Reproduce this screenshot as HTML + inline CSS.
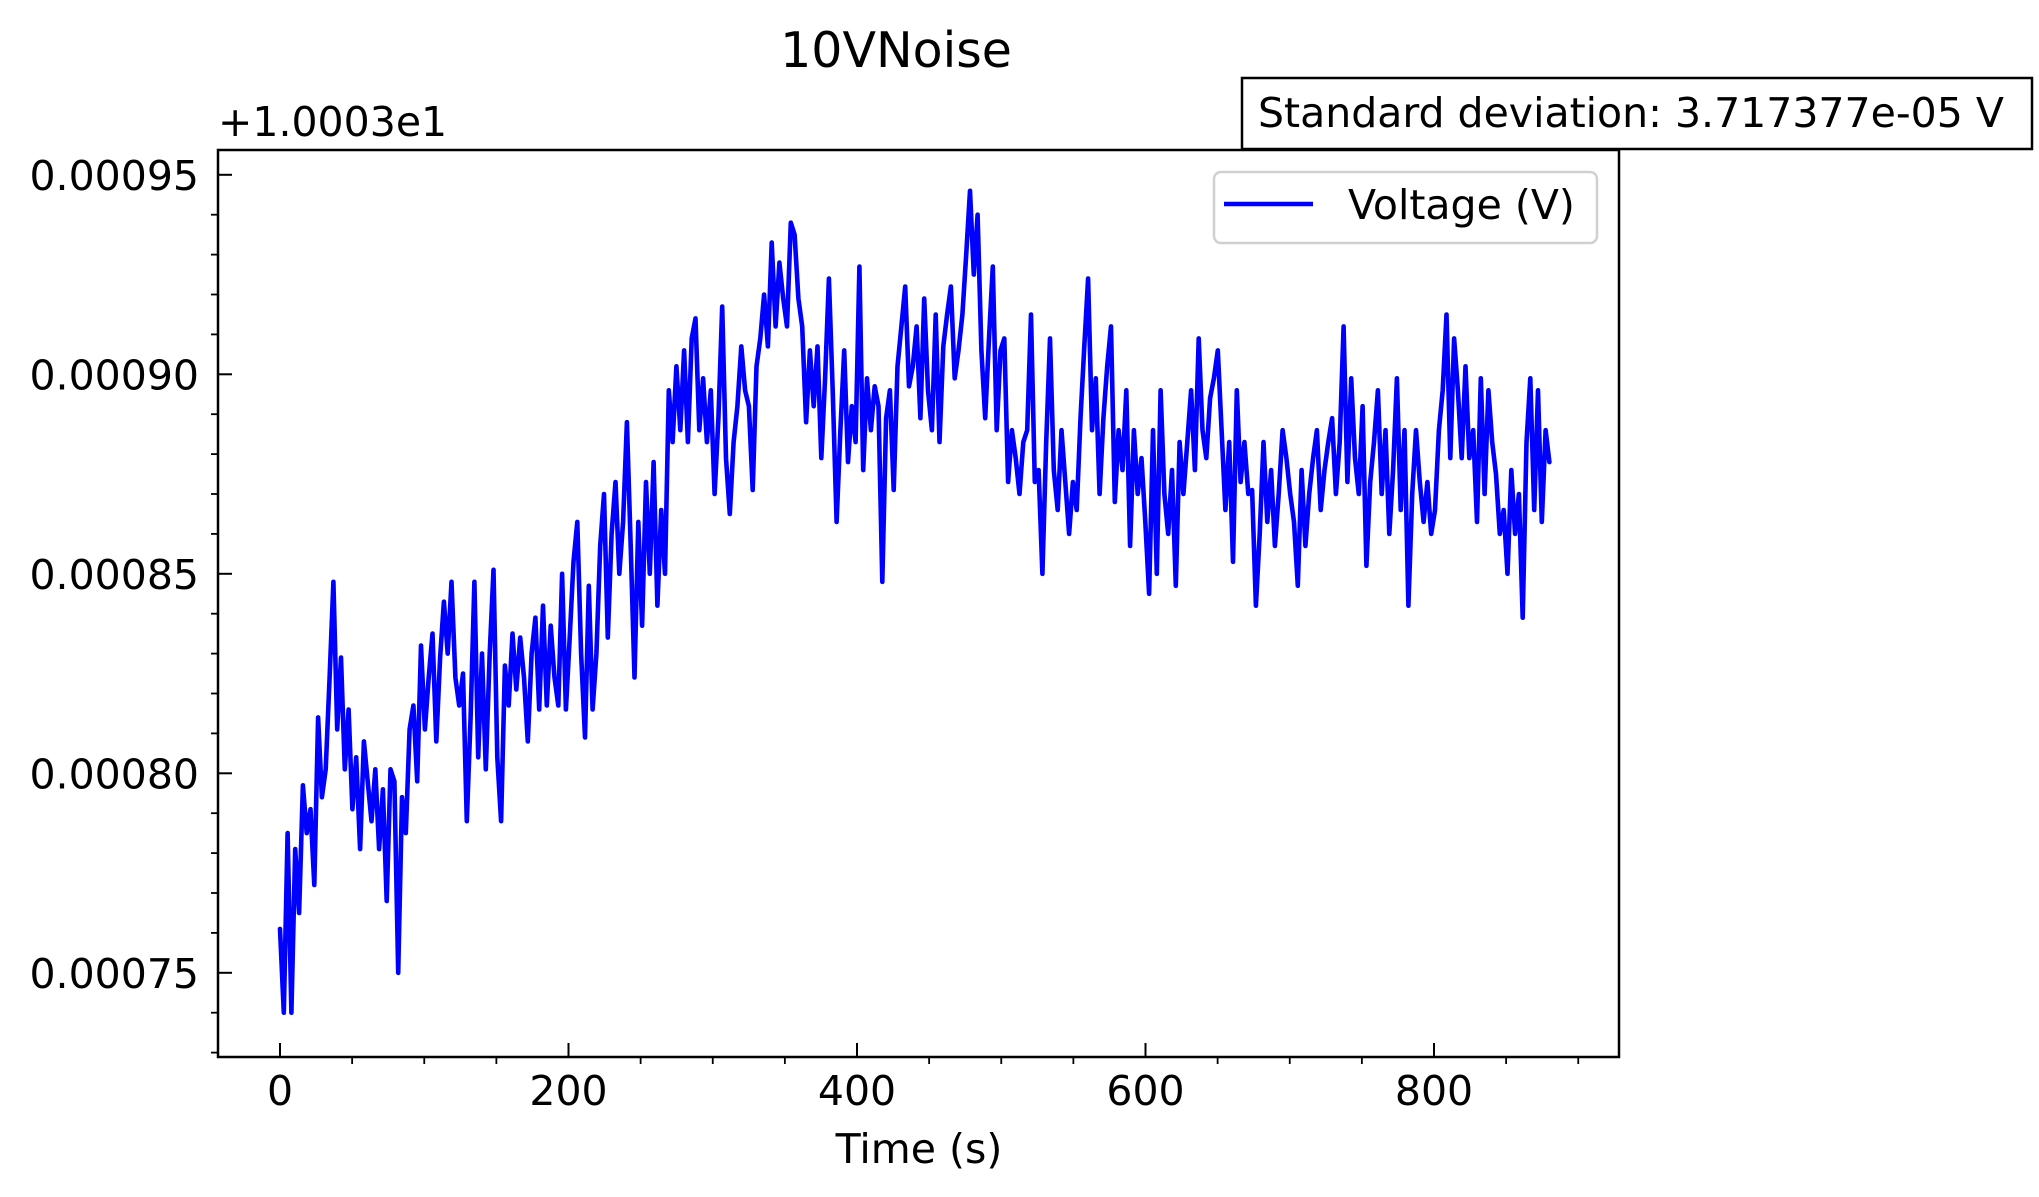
<!DOCTYPE html>
<html><head><meta charset="utf-8"><style>
html,body{margin:0;padding:0;background:#fff;}
svg{display:block;font-family:"DejaVu Sans","Liberation Sans",sans-serif;}
</style></head><body>
<svg id="chart" width="2039" height="1197" viewBox="0 0 2039 1197">
<text x="896" y="67" font-size="49" text-anchor="middle">10VNoise</text>
<text x="218" y="136" font-size="41">+1.0003e1</text>
<g id="plot"></g>
<rect x="218" y="150" width="1401" height="907" fill="none" stroke="#000" stroke-width="2.5"/>
<g id="axes"></g>
<text x="919" y="1163" font-size="41" text-anchor="middle">Time (s)</text>
<g>
<rect x="1214" y="172" width="383" height="71" rx="7" fill="#fff" fill-opacity="0.8" stroke="#d0d0d0" stroke-width="2.5"/>
<line x1="1224" y1="204" x2="1313" y2="204" stroke="#0000ff" stroke-width="4.5"/>
<text x="1348" y="219" font-size="41">Voltage (V)</text>
</g>
<g>
<rect x="1242" y="78" width="790" height="71" fill="#fff" stroke="#000" stroke-width="2.5"/>
<text x="1258" y="127" font-size="41">Standard deviation: 3.717377e-05 V</text>
</g>
</svg>
<script>
// values in units of 1e-5 V above 10.003 V
const voltage = [76.1,74.0,78.5,74.0,78.1,76.5,79.7,78.5,79.1,77.2,81.4,79.4,80.1,82.4,84.8,81.1,82.9,80.1,81.6,79.1,80.4,78.1,80.8,79.8,78.8,80.1,78.1,79.6,76.8,80.1,79.8,75.0,79.4,78.5,81.1,81.7,79.8,83.2,81.1,82.4,83.5,80.8,82.9,84.3,83.0,84.8,82.4,81.7,82.5,78.8,81.4,84.8,80.4,83.0,80.1,83.0,85.1,80.4,78.8,82.7,81.7,83.5,82.1,83.4,82.4,80.8,83.0,83.9,81.6,84.2,81.7,83.7,82.4,81.7,85.0,81.6,83.4,85.3,86.3,83.0,80.9,84.7,81.6,83.0,85.7,87.0,83.4,86.0,87.3,85.0,86.3,88.8,85.7,82.4,86.3,83.7,87.3,85.0,87.8,84.2,86.6,85.0,89.6,88.3,90.2,88.6,90.6,88.3,90.9,91.4,88.6,89.9,88.3,89.6,87.0,88.9,91.7,87.9,86.5,88.3,89.2,90.7,89.6,89.2,87.1,90.2,90.9,92.0,90.7,93.3,91.2,92.8,91.9,91.2,93.8,93.5,91.9,91.2,88.8,90.6,89.2,90.7,87.9,89.9,92.4,89.6,86.3,88.6,90.6,87.8,89.2,88.3,92.7,87.6,89.9,88.6,89.7,89.2,84.8,88.9,89.6,87.1,90.2,91.2,92.2,89.7,90.2,91.2,88.9,91.9,89.6,88.6,91.5,88.3,90.7,91.5,92.2,89.9,90.6,91.5,93.0,94.6,92.5,94.0,90.6,88.9,90.9,92.7,88.6,90.6,90.9,87.3,88.6,87.9,87.0,88.3,88.6,91.5,87.3,87.6,85.0,88.3,90.9,87.6,86.6,88.6,87.3,86.0,87.3,86.6,88.9,90.7,92.4,88.6,89.9,87.0,88.9,90.2,91.2,86.8,88.6,87.6,89.6,85.7,88.6,87.0,87.9,86.3,84.5,88.6,85.0,89.6,87.0,86.0,87.6,84.7,88.3,87.0,88.3,89.6,87.6,90.9,88.6,87.9,89.4,89.9,90.6,88.6,86.6,88.3,85.3,89.6,87.3,88.3,87.0,87.1,84.2,86.0,88.3,86.3,87.6,85.7,87.0,88.6,87.9,87.0,86.3,84.7,87.6,85.7,87.0,87.9,88.6,86.6,87.6,88.3,88.9,87.0,88.3,91.2,87.3,89.9,87.9,87.0,89.2,85.2,87.3,88.3,89.6,87.0,88.6,86.0,87.6,89.9,86.6,88.6,84.2,87.0,88.6,87.3,86.3,87.3,86.0,86.6,88.6,89.6,91.5,87.9,90.9,89.6,87.9,90.2,87.9,88.6,86.3,89.9,87.0,89.6,88.3,87.5,86.0,86.6,85.0,87.6,86.0,87.0,83.9,88.3,89.9,86.6,89.6,86.3,88.6,87.8];
const tStart = 0;
const tEnd = 880;
const xTicks = [0,200,400,600,800];
const xMinorTicks = [50,100,150,250,300,350,450,500,550,650,700,750,850,900];
const yTicks = [75,80,85,90,95];
const yTickLabels = ["0.00075","0.00080","0.00085","0.00090","0.00095"];
const yMinorTicks = [73,74,76,77,78,79,81,82,83,84,86,87,88,89,91,92,93,94];

const NS = "http://www.w3.org/2000/svg";
function xs(t){ return 280 + t * 1.4425; }
function ys(v){ return 374.3 - (v - 90) * 39.9; }
function mk(tag, attrs, parent){
  const e = document.createElementNS(NS, tag);
  for (const k in attrs) e.setAttribute(k, attrs[k]);
  parent.appendChild(e);
  return e;
}
const plot = document.getElementById('plot');
const axes = document.getElementById('axes');
const n = voltage.length;
const pts = voltage.map((v, i) => {
  const t = tStart + (tEnd - tStart) * i / (n - 1);
  return xs(t).toFixed(1) + "," + ys(v).toFixed(1);
}).join(" ");
const line = mk('polyline', {points: pts, fill: 'none', stroke: '#0000ff', 'stroke-width': 4.6, 'stroke-linejoin': 'round', 'stroke-linecap': 'round'}, plot);



xTicks.forEach(t => {
  const x = xs(t);
  const tk = mk('line', {x1: x, y1: 1057, x2: x, y2: 1043, stroke: '#000', 'stroke-width': 2}, axes);
  
  
  const lb = mk('text', {x: x, y: 1105, 'font-size': 41, 'text-anchor': 'middle'}, axes);
  lb.textContent = String(t);
  
  
});
xMinorTicks.forEach(t => {
  const x = xs(t);
  const tk = mk('line', {x1: x, y1: 1057, x2: x, y2: 1064, stroke: '#000', 'stroke-width': 1.8}, axes);
  
  
});
yTicks.forEach((v, i) => {
  const y = ys(v);
  const tk = mk('line', {x1: 218, y1: y, x2: 232, y2: y, stroke: '#000', 'stroke-width': 2}, axes);
  
  
  const lb = mk('text', {x: 199, y: y + 15, 'font-size': 41, 'text-anchor': 'end'}, axes);
  lb.textContent = yTickLabels[i];
  
  
});
yMinorTicks.forEach(v => {
  const y = ys(v);
  if (y < 150 || y > 1057) return;
  const tk = mk('line', {x1: 218, y1: y, x2: 211, y2: y, stroke: '#000', 'stroke-width': 1.8}, axes);
  
  
});
</script>
</body></html>
